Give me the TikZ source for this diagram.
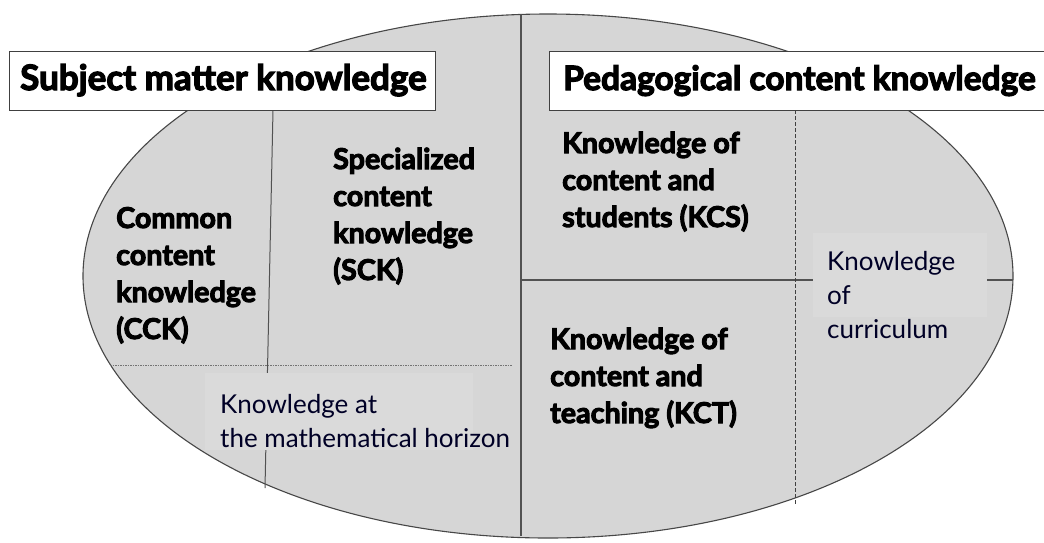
\documentclass[tikz,border=0pt]{standalone}
\usepackage{fontspec}
\setmainfont{Lato}[BoldFeatures={FakeBold=3.5}]
\begin{document}
\begin{tikzpicture}[x=1pt,y=-1pt,
  region/.style={draw=black!72,line width=1.1pt,fill=black!16},
  divider/.style={draw=black!68,line width=1.3pt},
  dashdiv/.style={draw=black!75,line width=1pt,dash pattern=on 4pt off 2pt},
  dotdiv/.style={draw=black!55,line width=1pt,dash pattern=on 1.5pt off 1pt},
  titlebox/.style={draw=black!75,line width=1pt,fill=white,minimum height=59pt,inner sep=0pt},
  titletext/.style={font=\fontsize{#1}{40}\selectfont\bfseries,anchor=base west,inner sep=0pt},
  domainlabel/.style={font=\fontsize{28.7}{37}\selectfont\bfseries,align=left,anchor=base west,inner sep=0pt},
  softbox/.style={fill=black!14.5,draw=none,inner sep=0pt},
  softtext/.style={font=\fontsize{26}{34}\selectfont,text=black!85!blue,align=left,anchor=base west,inner sep=0pt}]
\useasboundingbox (0,0) rectangle (1044,542);
\begin{scope}
\clip (0,0) rectangle (1044,542);
% the ellipse of mathematical knowledge for teaching
\path[region] (548,276) ellipse [x radius=465pt, y radius=262pt];
% dividing lines between the domains
\coordinate (midtop) at (521,14);
\coordinate (midbot) at (521,536);
\draw[divider] (midtop) -- (midbot);
\coordinate (ccktop) at (273,110);
\coordinate (cckbot) at (265,488);
\draw[divider,line width=1pt] (ccktop) -- (cckbot);
\coordinate (pckmid) at (521,280);
\coordinate (pckend) at (1013,280);
\draw[divider] (pckmid) -- (pckend);
\coordinate (curtop) at (795,110);
\coordinate (curbot) at (795,504);
\draw[dashdiv] (curtop) -- (curbot);
\coordinate (horleft) at (110,365);
\coordinate (horright) at (512,365);
\draw[dotdiv] (horleft) -- (horright);
% pale label patches lying over the lines
\node[softbox,anchor=north west,minimum width=268pt,minimum height=77pt] (horbox) at (205,373) {};
\node[softbox,anchor=north west,minimum width=174pt,minimum height=84pt] (curbox) at (813,233) {};
% headings
\node[titlebox,anchor=north west,minimum width=426pt] (smkbox) at (9,51) {};
\node[titlebox,anchor=north west,minimum width=520pt] (pckbox) at (549,51) {};
\end{scope}
\node[titletext=35] (smk) at (20,90) {Subject matter knowledge};
\node[titletext=33.5] (pck) at (563,90) {Pedagogical content knowledge};
% domain labels (each placed by the baseline of its last line)
\node[domainlabel] (cck) at (116,339) {Common\\content\\knowledge\\(CCK)};
\node[domainlabel] (sck) at (333,280) {Specialized\\content\\knowledge\\(SCK)};
\node[domainlabel] (kcs) at (562,227) {Knowledge of\\content and\\students (KCS)};
\node[domainlabel] (kct) at (550,423) {Knowledge of\\content and\\teaching (KCT)};
\node[softtext] (hor) at (220,447) {Knowledge at\\the mathematical horizon};
\node[softtext] (cur) at (827,338) {Knowledge\\of\\curriculum};
\end{tikzpicture}
\end{document}
